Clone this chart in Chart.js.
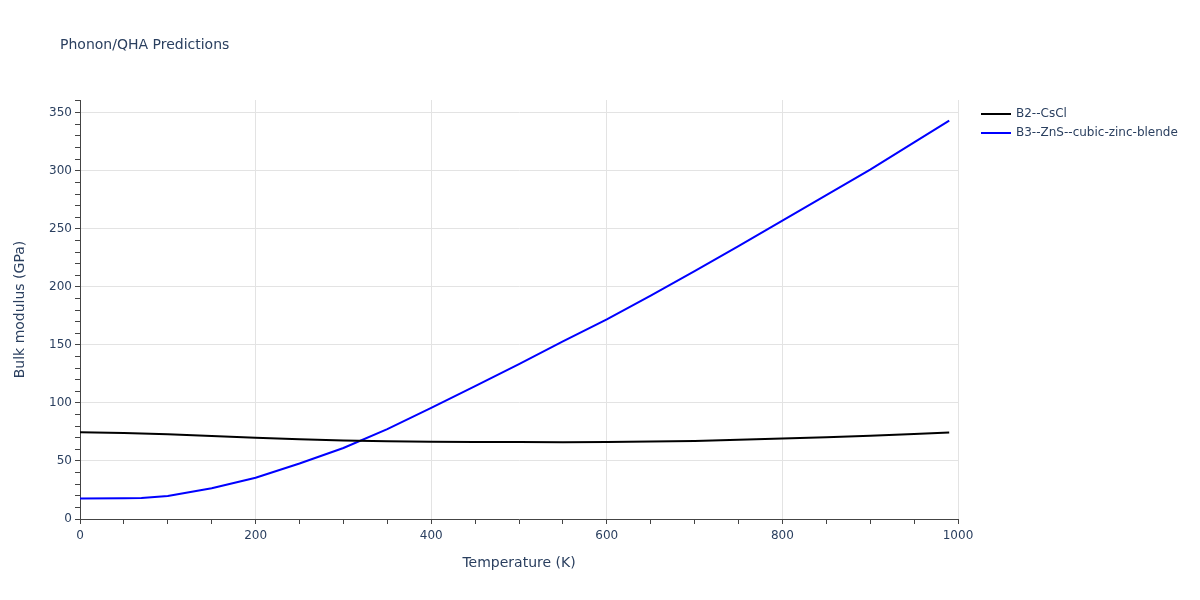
<!DOCTYPE html>
<html>
<head>
<meta charset="utf-8">
<script src="https://cdn.jsdelivr.net/npm/chart.js@4/dist/chart.umd.min.js"></script>
<style>
  html, body { margin: 0; padding: 0; background: #fff; }
  #wrap { width: 1200px; height: 600px; position: relative; }
</style>
</head>
<body>
<div id="wrap"><canvas id="qhaChart" width="1200" height="600"></canvas></div>
<script>
// temperatures (K) and bulk modulus (GPa)
const tempCsCl = [0, 50, 100, 150, 200, 250, 300, 350, 400, 450, 500, 550, 600, 650, 700, 750, 800, 850, 900, 950, 990];
const bulkCsCl = [74.8, 74.2, 73.0, 71.5, 70.1, 68.7, 67.7, 67.0, 66.5, 66.4, 66.3, 66.2, 66.4, 66.8, 67.3, 68.2, 69.3, 70.4, 71.8, 73.2, 74.5];

const tempZnS = [0, 50, 70, 100, 150, 200, 250, 300, 350, 400, 450, 500, 550, 600, 650, 700, 750, 800, 850, 900, 950, 990];
const bulkZnS = [17.6, 17.9, 18.1, 19.8, 26.5, 35.5, 47.8, 61.2, 77.5, 95.8, 114.5, 133.5, 153, 172, 192.5, 213.5, 235, 257, 279, 301, 324.5, 343.2];

const seriesNames = ['B2--CsCl', 'B3--ZnS--cubic-zinc-blende'];
const seriesColors = ['#000000', '#0000ff'];
const xLabelEvery = 200;
const yLabelEvery = 50;

const fontFam = '"DejaVu Sans", verdana, arial, sans-serif';
const textCol = '#2a3f5f';

function toPoints(xs, ys) {
  return xs.map((x, i) => ({ x: x, y: ys[i] }));
}

// title + legend drawn like plotly
const plotlyBits = {
  id: 'plotlyBits',
  afterDraw(chart) {
    const c = chart.ctx;
    c.save();
    c.fillStyle = textCol;
    c.textBaseline = 'middle';
    c.font = '14px ' + fontFam;
    c.fillText('Phonon/QHA Predictions', 60, 45);

    c.font = '12px ' + fontFam;
    chart.data.datasets.forEach((ds, i) => {
      const yy = 114 + i * 19;
      c.strokeStyle = ds.borderColor;
      c.lineWidth = 2;
      c.beginPath();
      c.moveTo(981, yy);
      c.lineTo(1011, yy);
      c.stroke();
      c.fillStyle = textCol;
      c.fillText(ds.label, 1016, yy);
    });
    c.restore();
  }
};

const ctx = document.getElementById('qhaChart').getContext('2d');

const qhaChart = new Chart(ctx, {
  type: 'line',
  data: {
    datasets: [
      {
        label: seriesNames[0],
        data: toPoints(tempCsCl, bulkCsCl),
        borderColor: seriesColors[0],
        borderWidth: 2,
        pointRadius: 0,
        tension: 0
      },
      {
        label: seriesNames[1],
        data: toPoints(tempZnS, bulkZnS),
        borderColor: seriesColors[1],
        borderWidth: 2,
        pointRadius: 0,
        tension: 0
      }
    ]
  },
  options: {
    responsive: false,
    animation: false,
    layout: { padding: { top: 100, right: 242, bottom: 0, left: 0 } },
    plugins: {
      legend: { display: false },
      title: { display: false },
      tooltip: { enabled: false }
    },
    scales: {
      x: {
        type: 'linear',
        min: 0,
        max: 1000,
        afterFit(s) { s.height = 81; },
        border: { display: true, color: '#444', width: 1 },
        grid: {
          color: c => (c.tick.value % xLabelEvery === 0 && c.tick.value !== 0) ? '#e3e3e3' : 'rgba(0,0,0,0)',
          tickColor: '#444',
          tickLength: 5,
          tickWidth: 1
        },
        ticks: {
          stepSize: 50,
          autoSkip: false,
          maxRotation: 0,
          padding: 5,
          color: textCol,
          font: { family: fontFam, size: 12 },
          callback: v => (v % xLabelEvery === 0 ? v : '')
        },
        title: {
          display: true,
          text: 'Temperature (K)',
          color: textCol,
          font: { family: fontFam, size: 14 },
          padding: { bottom: 28 }
        }
      },
      y: {
        type: 'linear',
        min: 0,
        max: 361,
        afterFit(s) { s.width = 80; },
        border: { display: true, color: '#444', width: 1 },
        grid: {
          color: c => (c.tick.value % yLabelEvery === 0 && c.tick.value !== 0) ? '#e3e3e3' : 'rgba(0,0,0,0)',
          tickColor: '#444',
          tickLength: 5,
          tickWidth: 1
        },
        ticks: {
          stepSize: 10,
          autoSkip: false,
          padding: 3,
          color: textCol,
          font: { family: fontFam, size: 12 },
          callback: v => (v % yLabelEvery === 0 ? v : '')
        },
        title: {
          display: true,
          text: 'Bulk modulus (GPa)',
          color: textCol,
          font: { family: fontFam, size: 14 },
          padding: { top: 12 }
        }
      }
    }
  },
  plugins: [plotlyBits]
});
</script>
</body>
</html>
